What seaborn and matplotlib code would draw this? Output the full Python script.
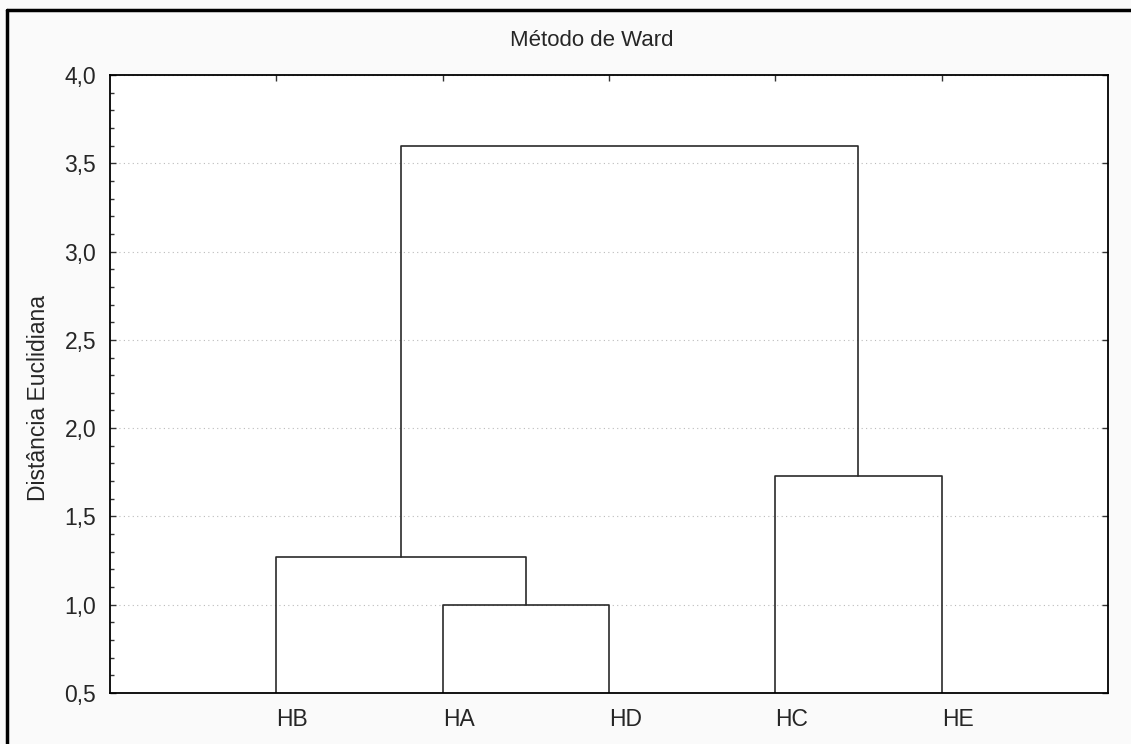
import numpy as np
import pandas as pd
import matplotlib
matplotlib.use('Agg')
import matplotlib.pyplot as plt
import matplotlib.transforms as mtransforms
from matplotlib.ticker import MultipleLocator
from matplotlib.lines import Line2D
import seaborn as sns

# dados do dendrograma (método de Ward)
folhas = ['HB', 'HA', 'HD', 'HC', 'HE']
# fusões: (grupo esquerdo, grupo direito, altura)
esquerda = ['HA', 'HB', 'HC', 'G2']
direita = ['HD', 'G1', 'HE', 'G3']
alturas = [1.00, 1.27, 1.73, 3.60]
grupos = ['G1', 'G2', 'G3', 'G4']

sns.set_theme(style='white')
plt.rcParams['font.family'] = ['Liberation Sans', 'DejaVu Sans']

# posição x e altura de cada nó
pos = {f: i + 1 for i, f in enumerate(folhas)}
alt = {f: 0.0 for f in folhas}
linhas = []
for e, d, h, g in zip(esquerda, direita, alturas, grupos):
    xs = [pos[e], pos[e], pos[d], pos[d]]
    ys = [alt[e], h, h, alt[d]]
    for k, (x, y) in enumerate(zip(xs, ys)):
        linhas.append({'x': x, 'y': y, 'grupo': g, 'ordem': k})
    pos[g] = (pos[e] + pos[d]) / 2
    alt[g] = h
df = pd.DataFrame(linhas)

fig = plt.figure(figsize=(11.31, 7.44), dpi=100, facecolor='#fafafa')
ax = fig.add_axes([110 / 1131, 1 - 693 / 744, 998 / 1131, 618 / 744])
ax.set_facecolor('white')

sns.lineplot(data=df, x='x', y='y', units='grupo', estimator=None, sort=False,
             color='#2a2a2a', linewidth=1.2, ax=ax, legend=False)

ax.set_xlim(0, 6)
ax.set_ylim(0.5, 4.0)
ax.set_xticks(range(1, len(folhas) + 1))
ax.set_xticklabels(folhas, ha='left')
# rótulos começam um pouco à direita da folha
desloc = mtransforms.ScaledTranslation(4 / 100, 0, fig.dpi_scale_trans)
for lbl in ax.get_xticklabels():
    lbl.set_transform(lbl.get_transform() + desloc)

ax.yaxis.set_major_locator(MultipleLocator(0.5))
ax.yaxis.set_minor_locator(MultipleLocator(0.1))
ax.set_yticklabels([f'{v:.1f}'.replace('.', ',') for v in ax.get_yticks()])

ax.grid(axis='y', which='major', color='#bbbbbb', linestyle=(0, (1, 3)), linewidth=0.8)
ax.grid(axis='x', visible=False)
for s in ax.spines.values():
    s.set_visible(True)
    s.set_color('black')
    s.set_linewidth(1.3)

ax.tick_params(axis='y', which='major', direction='in', length=4, width=1,
               left=True, right=True, labelsize=16.5, pad=10, color='#333333')
ax.tick_params(axis='y', which='minor', direction='in', length=3, width=1,
               left=True, right=False, color='#333333')
ax.tick_params(axis='x', which='major', direction='in', length=4, width=1,
               top=True, bottom=False, labelsize=16.5, pad=11, color='#333333')

ax.set_xlabel('')
ax.set_ylabel('Distância Euclidiana', fontsize=16.5, labelpad=10, y=0.477)
ax.set_title('Método de Ward', fontsize=16, pad=21, x=0.483)

# moldura da figura (parte superior e esquerda)
fig.add_artist(Line2D([7 / 1131, 1], [1 - 10 / 744, 1 - 10 / 744], color='black',
                      linewidth=2.5, transform=fig.transFigure))
fig.add_artist(Line2D([7 / 1131, 7 / 1131], [0, 1 - 10 / 744], color='black',
                      linewidth=2.5, transform=fig.transFigure))

fig.savefig('out.png', dpi=100, facecolor=fig.get_facecolor())
